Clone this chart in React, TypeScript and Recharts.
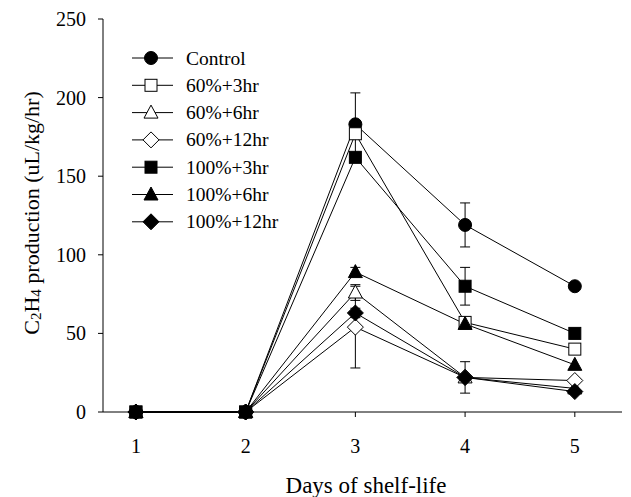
import React from 'react';
import { LineChart, Line, XAxis, YAxis, ErrorBar, Legend, Label } from 'recharts';

const days = [1, 2, 3, 4, 5];
const seriesNames = ['Control', '60%+3hr', '60%+6hr', '60%+12hr', '100%+3hr', '100%+6hr', '100%+12hr'];
const control = [0, 0, 183, 119, 80];
const controlErr = [null, null, 20, 14, null];
const p60h3 = [0, 0, 177, 57, 40];
const p60h3Err = [null, null, 2, 2, null];
const p60h6 = [0, 0, 76, 22, 15];
const p60h6Err = [null, null, 5, null, null];
const p60h12 = [0, 0, 54, 22, 20];
const p60h12Err = [null, null, 26, 10, null];
const p100h3 = [0, 0, 162, 80, 50];
const p100h3Err = [null, null, 2, 12, null];
const p100h6 = [0, 0, 89, 56, 30];
const p100h6Err = [null, null, 3, null, null];
const p100h12 = [0, 0, 63, 22, 13];
const p100h12Err = [null, null, 3, null, null];
const yTicks = [0, 50, 100, 150, 200, 250];

const values = [control, p60h3, p60h6, p60h12, p100h3, p100h6, p100h12];
const errors = [controlErr, p60h3Err, p60h6Err, p60h12Err, p100h3Err, p100h6Err, p100h12Err];
const shapes = ['circle', 'square', 'triangle', 'diamond', 'square', 'triangle', 'diamond'];
const filled = [true, false, false, false, true, true, true];

const data = days.map((d, i) => {
  const row: any = { day: d };
  values.forEach((arr, s) => {
    row['s' + s] = arr[i];
    row['e' + s] = errors[s][i];
  });
  return row;
});

const FONT = "'Liberation Serif', 'Times New Roman', serif";

function Marker({ cx, cy, shape, fill }: any) {
  if (cx == null || cy == null) return null;
  const f = fill ? '#000' : '#fff';
  const common = { fill: f, stroke: '#000', strokeWidth: 1 };
  if (shape === 'circle') return <circle cx={cx} cy={cy} r={6.5} {...common} />;
  if (shape === 'square') return <rect x={cx - 6} y={cy - 6} width={12} height={12} {...common} />;
  if (shape === 'triangle')
    return <polygon points={`${cx},${cy - 7.5} ${cx + 7},${cy + 5.5} ${cx - 7},${cy + 5.5}`} {...common} />;
  return <polygon points={`${cx},${cy - 8} ${cx + 8},${cy} ${cx},${cy + 8} ${cx - 8},${cy}`} {...common} />;
}

function XTick({ x, y, payload }: any) {
  return (
    <text x={x} y={y + 27} textAnchor="middle" dominantBaseline="central" style={{ fontFamily: FONT, fontSize: 20 }} fill="#000">
      {payload.value}
    </text>
  );
}

function YTick({ x, y, payload }: any) {
  return (
    <text x={x - 10} y={y} textAnchor="end" dominantBaseline="central" style={{ fontFamily: FONT, fontSize: 20 }} fill="#000">
      {payload.value}
    </text>
  );
}

function LegendContent() {
  return (
    <svg width={220} height={200} style={{ display: 'block' }}>
      {seriesNames.map((name, i) => {
        const y = 18 + i * 27.3;
        return (
          <g key={name}>
            <line x1={12} x2={53} y1={y} y2={y} stroke="#000" strokeWidth={1} />
            <Marker cx={31} cy={y} shape={shapes[i]} fill={filled[i]} />
            <text x={66} y={y} dominantBaseline="central" style={{ fontFamily: FONT, fontSize: 19.5 }} fill="#000">
              {name}
            </text>
          </g>
        );
      })}
    </svg>
  );
}

function YTitle() {
  return (
    <text
      x={31}
      y={213}
      transform="rotate(-90 31 213)"
      textAnchor="middle"
      dominantBaseline="central"
      style={{ fontFamily: FONT, fontSize: 22 }}
      fill="#000"
    >
      <tspan>C</tspan>
      <tspan dy={5} style={{ fontSize: 15 }}>2</tspan>
      <tspan dy={-5}>H</tspan>
      <tspan dy={5} style={{ fontSize: 15 }}>4</tspan>
      <tspan dy={-5}> production (uL/kg/hr)</tspan>
    </text>
  );
}

export default function App() {
  return (
    <div style={{ position: 'absolute', left: 0, top: 0 }}>
      <LineChart width={631} height={497} data={data} margin={{ top: 19, right: 9, left: 0, bottom: 0 }}>
        <XAxis
          dataKey="day"
          type="number"
          domain={[0.7, 5.43]}
          ticks={days}
          allowDataOverflow
          height={85}
          stroke="#000"
          tickSize={5}
          tick={<XTick />}
        >
          <Label
            content={() => (
              <text x={366} y={485} textAnchor="middle" dominantBaseline="central" style={{ fontFamily: FONT, fontSize: 23 }} fill="#000">
                Days of shelf-life
              </text>
            )}
          />
        </XAxis>
        <YAxis
          type="number"
          domain={[0, 250]}
          ticks={yTicks}
          width={103}
          stroke="#000"
          tickSize={5}
          tick={<YTick />}
        >
          <Label content={() => <YTitle />} />
        </YAxis>
        <Legend
          layout="horizontal"
          verticalAlign="middle"
          align="center"
          content={() => <LegendContent />}
          wrapperStyle={{ left: 120, top: 40, width: 220, height: 200 }}
        />
        {values.map((_, s) => (
          <Line
            key={'s' + s}
            dataKey={'s' + s}
            name={seriesNames[s]}
            stroke="#000"
            strokeWidth={1}
            isAnimationActive={false}
            dot={(p: any) => (
              <Marker key={'m' + s + '-' + p.index} cx={p.cx} cy={p.cy} shape={shapes[s]} fill={filled[s]} />
            )}
            activeDot={false}
          >
            <ErrorBar dataKey={'e' + s} width={5} stroke="#000" strokeWidth={1} direction="y" isAnimationActive={false} />
          </Line>
        ))}
      </LineChart>
    </div>
  );
}
